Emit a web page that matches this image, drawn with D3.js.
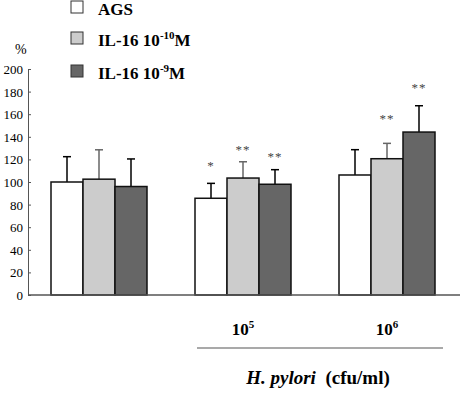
<!DOCTYPE html>
<html>
  <head>
    <meta charset="utf-8">
    <title>IL-16 and H. pylori</title>
    <script src="https://cdn.jsdelivr.net/npm/d3@7"></script>
    <style>
      body { margin: 0; background: #fff; }
      .tick text { font-size: 13px; fill: #000; }
      .legend text { font-size: 17px; font-weight: bold; }
      .stars { font-size: 13px; fill: #444; letter-spacing: 1px; }
    </style>
  </head>

  <body>
    <svg id="chart" width="462" height="394" font-family="'Liberation Serif', 'DejaVu Serif', 'Times New Roman', serif"></svg>

    <script>
      // data
      groups = ["control", "1e5", "1e6"];
      groupExp = ["", "5", "6"];
      series = ["AGS", "IL-16 10-10M", "IL-16 10-9M"];
      seriesExp = [null, "-10", "-9"];
      fills = ["#ffffff", "#cccccc", "#666666"];
      errColours = ["#000", "#666", "#000"];

      means = [
        [100, 102.5, 96],
        [85.6, 103.5, 98],
        [106.2, 120.6, 144.2]
      ];
      errs = [
        [22.4, 26, 24.4],
        [13.2, 14.4, 12.9],
        [22.4, 13.6, 23.3]
      ];
      stars = [
        ["", "", ""],
        ["*", "**", "**"],
        ["", "**", "**"]
      ];
      // level (in %) of each star label
      starLevel = [
        [0, 0, 0],
        [118, 132, 126],
        [0, 159, 187]
      ];
      yTicks = d3.range(0, 201, 20);

      chart = d3.select("#chart");

      x = d3.scaleBand()
        .domain(groups)
        .range([27, 459])
        .paddingInner(1 / 3)
        .paddingOuter(1 / 6);

      xInner = d3.scaleBand()
        .domain(d3.range(series.length))
        .range([0, x.bandwidth()])
        .padding(0);

      y = d3.scaleLinear()
        .domain([0, 200])
        .range([295, 69]);

      // axes
      yAxis = d3.axisRight(y)
        .tickValues(yTicks)
        .tickSize(3)
        .tickSizeOuter(0);

      axisGroup = chart.append("g")
        .attr("transform", "translate(28,0)")
        .call(yAxis)
        .attr("font-family", null);
      axisGroup.select(".domain").attr("stroke", "#555");
      axisGroup.selectAll(".tick line").attr("stroke", "#555");
      axisGroup.selectAll(".tick text")
        .attr("x", -5)
        .attr("text-anchor", "end")
        .attr("dy", "0.35em");

      chart.append("text")
        .attr("x", 15)
        .attr("y", 54)
        .style("font-size", "14px")
        .text("%");

      // bars
      barGroups = chart.selectAll(".group")
        .data(groups)
        .enter().append("g")
          .attr("class", "group")
          .attr("transform", d => "translate(" + x(d) + ",0)");

      barGroups.each(function(g, gi) {
        let grp = d3.select(this);
        series.forEach((s, si) => {
          let cx = xInner(si) + xInner.bandwidth() / 2;
          let top = means[gi][si] + errs[gi][si];

          grp.append("line")
            .attr("x1", cx).attr("x2", cx)
            .attr("y1", y(means[gi][si]))
            .attr("y2", y(top))
            .attr("stroke", errColours[si])
            .attr("stroke-width", 1.5);
          grp.append("line")
            .attr("x1", cx - 4).attr("x2", cx + 4)
            .attr("y1", y(top)).attr("y2", y(top))
            .attr("stroke", errColours[si])
            .attr("stroke-width", 1.5);

          grp.append("rect")
            .attr("x", xInner(si))
            .attr("y", y(means[gi][si]))
            .attr("width", xInner.bandwidth())
            .attr("height", y(0) - y(means[gi][si]))
            .attr("fill", fills[si])
            .attr("stroke", "#111")
            .attr("stroke-width", 1.5);

          if (stars[gi][si]) {
            grp.append("text")
              .attr("class", "stars")
              .attr("x", cx)
              .attr("y", y(starLevel[gi][si]) + 8)
              .attr("text-anchor", "middle")
              .text(stars[gi][si]);
          }
        });
      });

      // baseline
      chart.append("line")
        .attr("x1", 28).attr("x2", 460)
        .attr("y1", y(0)).attr("y2", y(0))
        .attr("stroke", "#555")
        .attr("stroke-width", 1.5);

      // category labels
      groups.forEach((g, i) => {
        if (!groupExp[i]) return;
        let t = chart.append("text")
          .attr("x", x(g) + x.bandwidth() / 2)
          .attr("y", 335)
          .attr("text-anchor", "middle")
          .style("font-size", "17px")
          .style("font-weight", "bold");
        t.append("tspan").text("10");
        t.append("tspan")
          .attr("dy", -7)
          .style("font-size", "11px")
          .text(groupExp[i]);
      });

      chart.append("line")
        .attr("x1", 197).attr("x2", 443)
        .attr("y1", 348).attr("y2", 348)
        .attr("stroke", "#555")
        .attr("stroke-width", 1.2);

      title = chart.append("text")
        .attr("x", 318)
        .attr("y", 384)
        .attr("text-anchor", "middle")
        .style("font-size", "19px")
        .style("font-weight", "bold");
      title.append("tspan").style("font-style", "italic").text("H. pylori");
      title.append("tspan").text("\u00a0 (cfu/ml)");

      // legend
      legendY = [1, 32, 65];
      legend = chart.append("g").attr("class", "legend");
      series.forEach((s, i) => {
        let row = legend.append("g")
          .attr("transform", "translate(71," + legendY[i] + ")");
        row.append("rect")
          .attr("width", 12).attr("height", 12)
          .attr("fill", fills[i])
          .attr("stroke", "#333")
          .attr("stroke-width", 1);
        let t = row.append("text")
          .attr("x", 27)
          .attr("y", 14);
        if (seriesExp[i]) {
          t.append("tspan").text("IL-16 10");
          t.append("tspan")
            .attr("dy", -7)
            .style("font-size", "11px")
            .text(seriesExp[i]);
          t.append("tspan").attr("dy", 7).text("M");
        } else {
          t.text(s);
        }
      });
    </script>
  </body>
</html>
